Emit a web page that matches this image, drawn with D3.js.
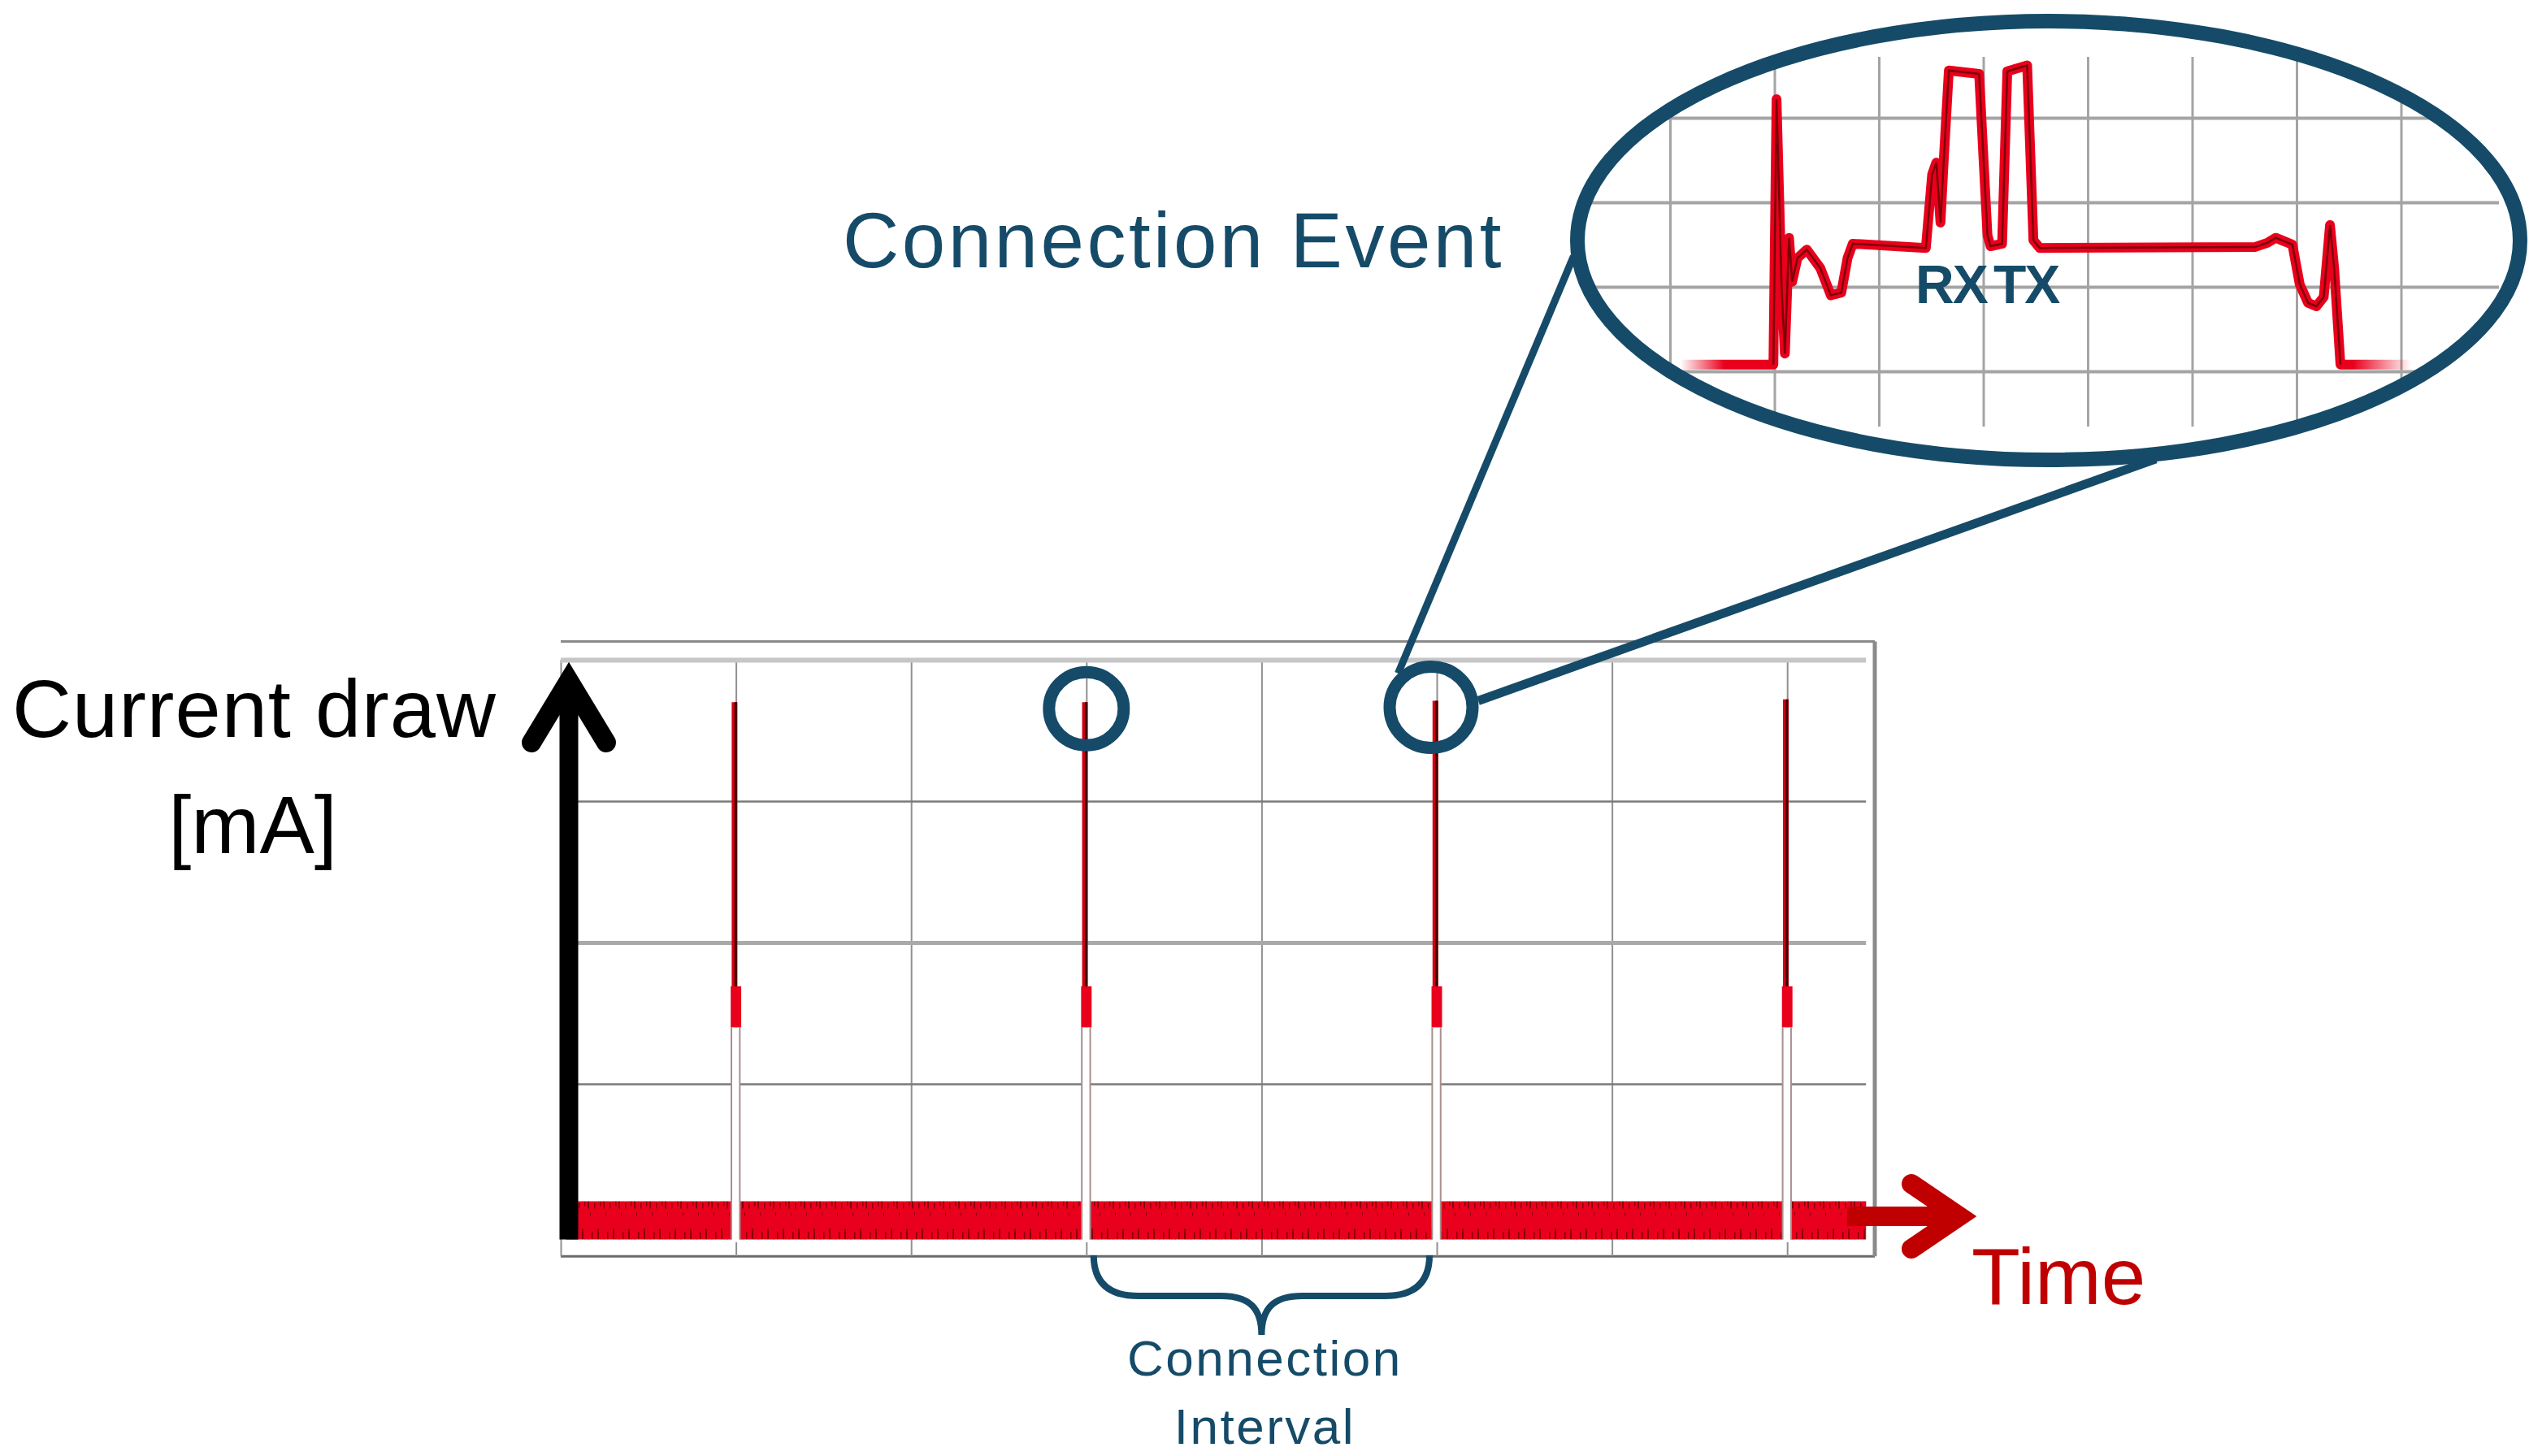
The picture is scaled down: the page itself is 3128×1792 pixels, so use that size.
<!DOCTYPE html>
<html>
<head>
<meta charset="utf-8">
<script src="https://cdn.jsdelivr.net/npm/d3@7"></script>
<style>
  body { margin: 0; background: #fff; }
  svg { display: block; font-family: "Liberation Sans", Arial, sans-serif; }
</style>
</head>
<body>
<svg width="3128" height="1792"></svg>
<script>
// main scope trace, in screen divisions
const gridCols = [0, 1, 2, 3, 4, 5, 6, 7];
const gridRows = [0, 1, 2, 3, 4];
const spikeTimes = [1, 3, 5, 7];
const spikePeak = [3.70, 3.70, 3.71, 3.72];
const spikeHold = [1.40, 1.69];      // wider block just after the peak
const idleBand = [-0.10, 0.17];      // noise floor between events
const markedSpikes = [1, 2];         // the two circled events

// zoomed connection event (inset)
const eventCols = [0, 1, 2, 3, 4, 5, 6, 7];
const eventRows = [0, 1, 2, 3];
const eventTime = [0.10, 0.99, 1.02, 1.07, 1.10, 1.14, 1.17, 1.22, 1.31, 1.44, 1.54, 1.64, 1.70, 1.75,
  2.45, 2.51, 2.55, 2.59, 2.62, 2.67, 2.96, 3.04, 3.07, 3.18, 3.23, 3.42, 3.48, 3.54,
  5.60, 5.72, 5.80, 5.88, 5.96, 6.03, 6.11, 6.19, 6.26, 6.32, 6.36, 6.42, 7.10];
const eventCurrent = [0.08, 0.08, 3.22, 0.94, 0.21, 1.58, 1.06, 1.34, 1.44, 1.22, 0.90, 0.93, 1.34, 1.51,
  1.46, 2.33, 2.47, 1.76, 2.47, 3.56, 3.52, 1.61, 1.48, 1.51, 3.55, 3.62, 1.55, 1.46,
  1.47, 1.52, 1.58, 1.54, 1.50, 1.03, 0.81, 0.77, 0.88, 1.73, 1.22, 0.08, 0.08];

const teal = '#154b68';
const darkRed = '#c00000';
const traceRed = '#e8001c';

const svg = d3.select('svg');
svg.append('rect').attr('width', 3128).attr('height', 1792).attr('fill', '#fff');
const defs = svg.append('defs');

// scales of the big scope picture
const x = d3.scaleLinear().domain([0, 7.5]).range([690, 2307]);
const y = d3.scaleLinear().domain([0, 4]).range([1508, 812]);

// frame
const g = svg.append('g');
g.append('line').attr('x1', x(0)).attr('x2', x(7.5)).attr('y1', y(4.13)).attr('y2', y(4.13))
  .attr('stroke', '#8a8a8a').attr('stroke-width', 3);
g.append('line').attr('x1', x(0)).attr('x2', x(7.5)).attr('y1', y(-0.22)).attr('y2', y(-0.22))
  .attr('stroke', '#6a6a6a').attr('stroke-width', 3);
g.append('line').attr('x1', x(7.5)).attr('x2', x(7.5)).attr('y1', y(4.13)).attr('y2', y(-0.22))
  .attr('stroke', '#8a8a8a').attr('stroke-width', 5);

// grid lines from the axes
const gx = g.append('g').attr('transform', `translate(0,${y(-0.22)})`)
  .call(d3.axisBottom(x).tickValues(gridCols).tickSize(-(y(-0.22) - y(4))).tickFormat(''));
gx.select('.domain').remove();
gx.selectAll('line').attr('stroke', '#909090').attr('stroke-width', 2);

const gy = g.append('g').attr('transform', `translate(${x(0)},0)`)
  .call(d3.axisLeft(y).tickValues(gridRows).tickSize(-(x(7.45) - x(0))).tickFormat(''));
gy.select('.domain').remove();
gy.selectAll('.tick line')
  .attr('stroke', d => d === 4 ? '#c6c6c6' : d === 2 ? '#a9a9a9' : '#7a7a7a')
  .attr('stroke-width', d => d === 4 ? 6 : d === 2 ? 5 : 2.5);

// idle noise floor
const noise = defs.append('pattern').attr('id', 'noise').attr('patternUnits', 'userSpaceOnUse')
  .attr('x', 0).attr('y', y(idleBand[1])).attr('width', 19).attr('height', y(idleBand[0]) - y(idleBand[1]));
[[1, 0, 2, 9], [6, 38, 1.5, 9], [9, 2, 1.5, 7], [13, 34, 2, 13], [16, 0, 1.5, 6], [4, 14, 1, 4]].forEach(r => {
  noise.append('rect').attr('x', r[0]).attr('y', r[1]).attr('width', r[2]).attr('height', r[3])
    .attr('fill', '#4a0000').attr('opacity', 0.6);
});
const band = d3.area().x(d => x(d)).y0(y(idleBand[0])).y1(y(idleBand[1]));
g.append('path').datum([0.03, 7.45]).attr('d', band).attr('fill', traceRed);
g.append('path').datum([0.03, 7.45]).attr('d', band).attr('fill', 'url(#noise)');

// connection event spikes
const spikes = g.selectAll('g.spike').data(spikeTimes.map((t, i) => ({ t, peak: spikePeak[i] })))
  .enter().append('g').attr('class', 'spike');
spikes.append('rect')
  .attr('x', d => x(d.t - 0.026)).attr('width', x(0.048) - x(0))
  .attr('y', y(spikeHold[0])).attr('height', y(idleBand[0] - 0.02) - y(spikeHold[0]))
  .attr('fill', '#fff');
[-0.026, 0.022].forEach(off => {
  spikes.append('line')
    .attr('x1', d => x(d.t + off)).attr('x2', d => x(d.t + off))
    .attr('y1', y(spikeHold[0])).attr('y2', y(idleBand[0]))
    .attr('stroke', '#a88f8f').attr('stroke-width', 2);
});
spikes.append('rect')
  .attr('x', d => x(d.t - 0.03)).attr('width', x(0.06) - x(0))
  .attr('y', y(spikeHold[1])).attr('height', y(spikeHold[0]) - y(spikeHold[1]))
  .attr('fill', traceRed);
spikes.append('line')
  .attr('x1', d => x(d.t - 0.008)).attr('x2', d => x(d.t - 0.008))
  .attr('y1', d => y(d.peak)).attr('y2', y(spikeHold[1]))
  .attr('stroke', '#d00010').attr('stroke-width', 7);
spikes.append('line')
  .attr('x1', d => x(d.t - 0.001)).attr('x2', d => x(d.t - 0.001))
  .attr('y1', d => y(d.peak)).attr('y2', y(spikeHold[1]))
  .attr('stroke', '#3a0000').attr('stroke-width', 3);

// axis arrows
svg.append('line').attr('x1', 700).attr('x2', 700).attr('y1', y(idleBand[0])).attr('y2', 835)
  .attr('stroke', '#000').attr('stroke-width', 23);
svg.append('polyline').attr('points', '654,914 700,838 746,914')
  .attr('fill', 'none').attr('stroke', '#000').attr('stroke-width', 24)
  .attr('stroke-linecap', 'round').attr('stroke-linejoin', 'miter');

svg.append('line').attr('x1', 2273).attr('x2', 2415).attr('y1', 1497).attr('y2', 1497)
  .attr('stroke', darkRed).attr('stroke-width', 24);
svg.append('polyline').attr('points', '2352,1457 2411,1497 2352,1537')
  .attr('fill', 'none').attr('stroke', darkRed).attr('stroke-width', 24)
  .attr('stroke-linecap', 'round').attr('stroke-linejoin', 'miter');

// axis labels
svg.append('text').attr('x', 313).attr('y', 907).attr('text-anchor', 'middle')
  .attr('font-size', 101).attr('letter-spacing', 1).attr('fill', '#000').text('Current draw');
svg.append('text').attr('x', 311).attr('y', 1050).attr('text-anchor', 'middle')
  .attr('font-size', 101).attr('fill', '#000').text('[mA]');
svg.append('text').attr('x', 2426).attr('y', 1605)
  .attr('font-size', 98).attr('fill', darkRed).text('Time');

// connection interval brace
const b0 = x(spikeTimes[1]) + 9, b1 = x(spikeTimes[2]) - 9, bm = (b0 + b1) / 2;
const bTop = 1545, bMid = 1595, bTip = 1643;
svg.append('path')
  .attr('d', `M${b0},${bTop} Q${b0},${bMid} ${b0 + 55},${bMid} L${bm - 50},${bMid}
    C${bm - 15},${bMid} ${bm},${bMid + 15} ${bm},${bTip}
    C${bm},${bMid + 15} ${bm + 15},${bMid} ${bm + 50},${bMid} L${b1 - 55},${bMid}
    Q${b1},${bMid} ${b1},${bTop}`)
  .attr('fill', 'none').attr('stroke', teal).attr('stroke-width', 8);
svg.append('text').attr('x', bm + 4).attr('y', 1693).attr('text-anchor', 'middle')
  .attr('font-size', 62).attr('letter-spacing', 2.5).attr('fill', teal).text('Connection');
svg.append('text').attr('x', bm + 4).attr('y', 1777).attr('text-anchor', 'middle')
  .attr('font-size', 62).attr('letter-spacing', 2.5).attr('fill', teal).text('Interval');

// big inset ellipse
const E = { cx: 2521, cy: 296, rx: 580, ry: 270 };
const onE = deg => [E.cx + (E.rx + 6) * Math.cos(deg * Math.PI / 180), E.cy + (E.ry + 6) * Math.sin(deg * Math.PI / 180)];

// circled events + connectors
const circ = markedSpikes.map(i => ({
  cx: x(spikeTimes[i]) - (i === 2 ? 7 : 0), cy: y(spikePeak[i]) + 8, r: i === 2 ? 51 : 46
}));
const c2 = circ[1];
const pA = [c2.cx - 0.7 * (c2.r + 7), c2.cy - 0.72 * (c2.r + 7)];
const pB = [c2.cx + (c2.r + 7), c2.cy - 8];
svg.append('line').attr('x1', pA[0]).attr('y1', pA[1]).attr('x2', onE(176)[0]).attr('y2', onE(176)[1])
  .attr('stroke', teal).attr('stroke-width', 9);
svg.append('line').attr('x1', pB[0]).attr('y1', pB[1]).attr('x2', onE(77)[0]).attr('y2', onE(77)[1])
  .attr('stroke', teal).attr('stroke-width', 11);
svg.selectAll('ellipse.mark').data(circ).enter().append('ellipse').attr('class', 'mark')
  .attr('cx', d => d.cx).attr('cy', d => d.cy).attr('rx', d => d.r).attr('ry', d => d.r - 1)
  .attr('fill', 'none').attr('stroke', teal).attr('stroke-width', 15);

svg.append('ellipse').attr('cx', E.cx).attr('cy', E.cy).attr('rx', E.rx).attr('ry', E.ry).attr('fill', '#fff');
defs.append('clipPath').attr('id', 'lens').append('ellipse')
  .attr('cx', E.cx).attr('cy', E.cy).attr('rx', E.rx - 8).attr('ry', E.ry - 8);

const ix = d3.scaleLinear().domain([0, 7]).range([2055, 2954.5]);
const iy = d3.scaleLinear().domain([0, 3]).range([457, 145]);
const inset = svg.append('g').attr('clip-path', 'url(#lens)');

const igx = inset.append('g').attr('transform', 'translate(0,525)')
  .call(d3.axisBottom(ix).tickValues(eventCols).tickSize(-455).tickFormat(''));
igx.select('.domain').remove();
igx.selectAll('line').attr('stroke', '#a4a4a4').attr('stroke-width', 3);
const igy = inset.append('g').attr('transform', 'translate(1955,0)')
  .call(d3.axisLeft(iy).tickValues(eventRows).tickSize(-1120).tickFormat(''));
igy.select('.domain').remove();
igy.selectAll('line').attr('stroke', '#a4a4a4').attr('stroke-width', 4);

const fade = defs.append('linearGradient').attr('id', 'fade').attr('gradientUnits', 'userSpaceOnUse')
  .attr('x1', ix(0.1)).attr('x2', ix(7.1)).attr('y1', 0).attr('y2', 0);
[[0, 0], [0.06, 1], [0.92, 1], [1, 0]].forEach(s => {
  fade.append('stop').attr('offset', s[0]).attr('stop-color', traceRed).attr('stop-opacity', s[1]);
});
const eventLine = d3.line().x(d => ix(d[0])).y(d => iy(d[1]));
const eventData = eventTime.map((t, i) => [t, eventCurrent[i]]);
inset.append('path').datum(eventData).attr('d', eventLine)
  .attr('fill', 'none').attr('stroke', 'url(#fade)').attr('stroke-width', 12)
  .attr('stroke-linejoin', 'round');
inset.append('path').datum(eventData.slice(1, -1)).attr('d', eventLine)
  .attr('fill', 'none').attr('stroke', '#5a0000').attr('stroke-width', 2.5).attr('opacity', 0.75);

svg.append('text').attr('x', 2357).attr('y', 373).attr('font-size', 66).attr('font-weight', 'bold')
  .attr('word-spacing', -8).attr('letter-spacing', -2).attr('fill', teal).text('RX TX');

svg.append('ellipse').attr('cx', E.cx).attr('cy', E.cy).attr('rx', E.rx).attr('ry', E.ry)
  .attr('fill', 'none').attr('stroke', teal).attr('stroke-width', 18);

svg.append('text').attr('x', 1037).attr('y', 329).attr('font-size', 96).attr('letter-spacing', 3.5)
  .attr('fill', teal).text('Connection Event');
</script>
</body>
</html>
